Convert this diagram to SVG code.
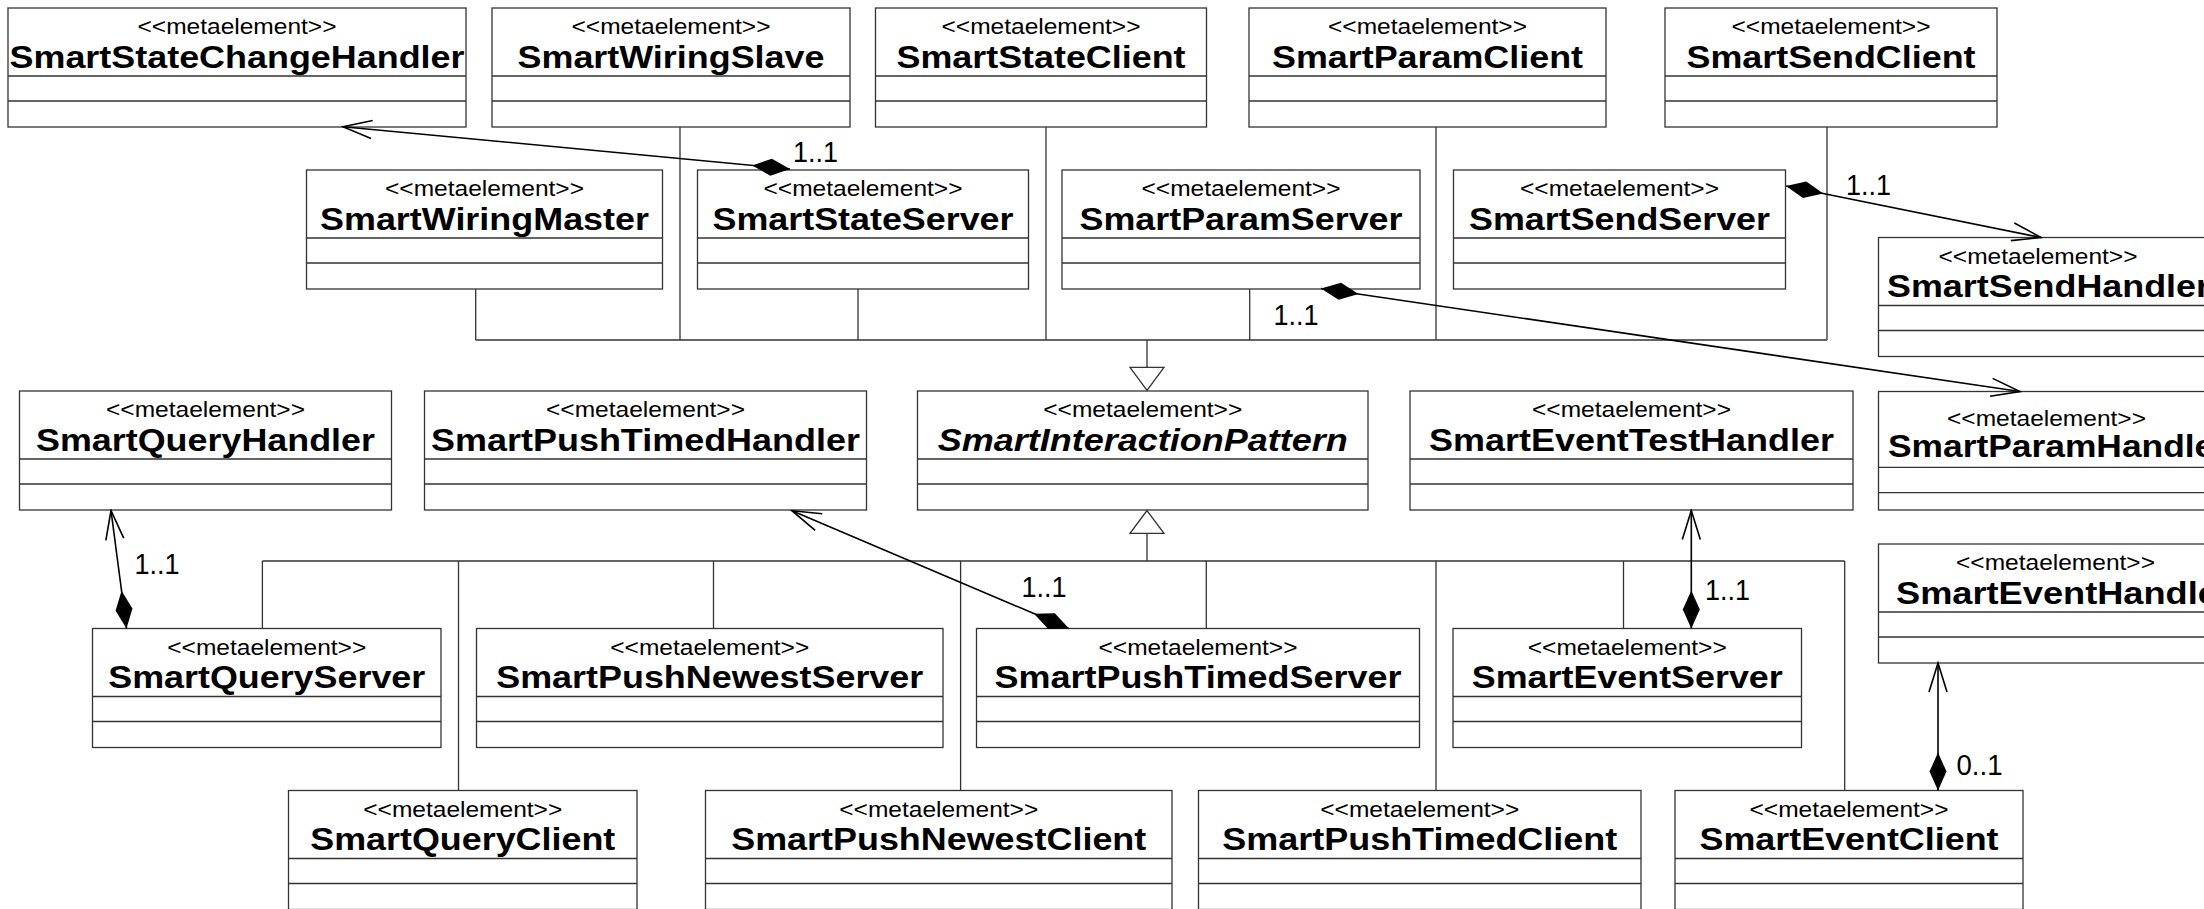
<svg xmlns="http://www.w3.org/2000/svg" width="2204" height="909" viewBox="0 0 2204 909">
  <style>
    .box { fill: #fff; stroke: #333; stroke-width: 1.3; }
    .sep { fill: none; stroke: #333; stroke-width: 1.3; }
    .st { font-family: "Liberation Sans", Arial, sans-serif; font-size: 21.5px; fill: #000; }
    .nm { font-family: "Liberation Sans", Arial, sans-serif; font-size: 32px; font-weight: bold; fill: #000; }
    .it { font-style: italic; }
    .c { text-anchor: middle; }
    .gen { fill: none; stroke: #333; stroke-width: 1.3; }
    .tri { fill: #fff; stroke: #333; stroke-width: 1.3; }
    .asc { fill: none; stroke: #000; stroke-width: 1.6; marker-start: url(#diamond); marker-end: url(#openArrow); }
    .lbl { font-family: "Liberation Sans", Arial, sans-serif; font-size: 29px; fill: #000; }
  </style>
  <defs>
    <marker id="diamond" markerUnits="userSpaceOnUse" viewBox="-1 -10 41 20" markerWidth="41" markerHeight="20" refX="0" refY="0" orient="auto">
      <path d="M0,0 L19,-8.5 L38,0 L19,8.5 Z" fill="#000"/>
    </marker>
    <marker id="openArrow" markerUnits="userSpaceOnUse" viewBox="-32 -11 34 22" markerWidth="34" markerHeight="22" refX="0" refY="0" orient="auto">
      <path d="M-29,-9 L0,0 L-29,9" fill="none" stroke="#000" stroke-width="1.6"/>
    </marker>
  </defs>
  <rect width="2204" height="909" fill="#fff"/>

  <!-- classes: name compartment 68px, two empty compartments 25px each -->
  <g id="nodes">
    <g id="SmartStateChangeHandler">
      <rect class="box" x="8" y="8" width="458" height="119"/>
      <path class="sep" d="M8,76H466M8,101H466"/>
      <text class="st c" x="237" y="34" textLength="199" lengthAdjust="spacingAndGlyphs">&lt;&lt;metaelement&gt;&gt;</text>
      <text class="nm c" x="237" y="67.5" textLength="455" lengthAdjust="spacingAndGlyphs">SmartStateChangeHandler</text>
    </g>
    <g id="SmartWiringSlave">
      <rect class="box" x="492" y="8" width="358" height="119"/>
      <path class="sep" d="M492,76H850M492,101H850"/>
      <text class="st c" x="671" y="34" textLength="199" lengthAdjust="spacingAndGlyphs">&lt;&lt;metaelement&gt;&gt;</text>
      <text class="nm c" x="671" y="67.5" textLength="307" lengthAdjust="spacingAndGlyphs">SmartWiringSlave</text>
    </g>
    <g id="SmartStateClient">
      <rect class="box" x="875.5" y="8" width="331" height="119"/>
      <path class="sep" d="M875.5,76H1206.5M875.5,101H1206.5"/>
      <text class="st c" x="1041" y="34" textLength="199" lengthAdjust="spacingAndGlyphs">&lt;&lt;metaelement&gt;&gt;</text>
      <text class="nm c" x="1041" y="67.5" textLength="289" lengthAdjust="spacingAndGlyphs">SmartStateClient</text>
    </g>
    <g id="SmartParamClient">
      <rect class="box" x="1249" y="8" width="357" height="119"/>
      <path class="sep" d="M1249,76H1606M1249,101H1606"/>
      <text class="st c" x="1427.5" y="34" textLength="199" lengthAdjust="spacingAndGlyphs">&lt;&lt;metaelement&gt;&gt;</text>
      <text class="nm c" x="1427.5" y="67.5" textLength="311" lengthAdjust="spacingAndGlyphs">SmartParamClient</text>
    </g>
    <g id="SmartSendClient">
      <rect class="box" x="1665" y="8" width="332" height="119"/>
      <path class="sep" d="M1665,76H1997M1665,101H1997"/>
      <text class="st c" x="1831" y="34" textLength="199" lengthAdjust="spacingAndGlyphs">&lt;&lt;metaelement&gt;&gt;</text>
      <text class="nm c" x="1831" y="67.5" textLength="289" lengthAdjust="spacingAndGlyphs">SmartSendClient</text>
    </g>

    <g id="SmartWiringMaster">
      <rect class="box" x="306.5" y="170" width="356" height="119"/>
      <path class="sep" d="M306.5,238H662.5M306.5,263H662.5"/>
      <text class="st c" x="484.5" y="196" textLength="199" lengthAdjust="spacingAndGlyphs">&lt;&lt;metaelement&gt;&gt;</text>
      <text class="nm c" x="484.5" y="229.5" textLength="329" lengthAdjust="spacingAndGlyphs">SmartWiringMaster</text>
    </g>
    <g id="SmartStateServer">
      <rect class="box" x="697.5" y="170" width="331" height="119"/>
      <path class="sep" d="M697.5,238H1028.5M697.5,263H1028.5"/>
      <text class="st c" x="863" y="196" textLength="199" lengthAdjust="spacingAndGlyphs">&lt;&lt;metaelement&gt;&gt;</text>
      <text class="nm c" x="863" y="229.5" textLength="301" lengthAdjust="spacingAndGlyphs">SmartStateServer</text>
    </g>
    <g id="SmartParamServer">
      <rect class="box" x="1062" y="170" width="358" height="119"/>
      <path class="sep" d="M1062,238H1420M1062,263H1420"/>
      <text class="st c" x="1241" y="196" textLength="199" lengthAdjust="spacingAndGlyphs">&lt;&lt;metaelement&gt;&gt;</text>
      <text class="nm c" x="1241" y="229.5" textLength="323" lengthAdjust="spacingAndGlyphs">SmartParamServer</text>
    </g>
    <g id="SmartSendServer">
      <rect class="box" x="1453.5" y="170" width="332" height="119"/>
      <path class="sep" d="M1453.5,238H1785.5M1453.5,263H1785.5"/>
      <text class="st c" x="1619.5" y="196" textLength="199" lengthAdjust="spacingAndGlyphs">&lt;&lt;metaelement&gt;&gt;</text>
      <text class="nm c" x="1619.5" y="229.5" textLength="301" lengthAdjust="spacingAndGlyphs">SmartSendServer</text>
    </g>
    <g id="SmartSendHandler">
      <rect class="box" x="1878.5" y="237.5" width="345" height="119"/>
      <path class="sep" d="M1878.5,305.5H2223.5M1878.5,330.5H2223.5"/>
      <text class="st" x="1938.5" y="264" textLength="199" lengthAdjust="spacingAndGlyphs">&lt;&lt;metaelement&gt;&gt;</text>
      <text class="nm" x="1887" y="297" textLength="323" lengthAdjust="spacingAndGlyphs">SmartSendHandler</text>
    </g>

    <g id="SmartQueryHandler">
      <rect class="box" x="19.5" y="391" width="372" height="119"/>
      <path class="sep" d="M19.5,459H391.5M19.5,484H391.5"/>
      <text class="st c" x="205.5" y="417" textLength="199" lengthAdjust="spacingAndGlyphs">&lt;&lt;metaelement&gt;&gt;</text>
      <text class="nm c" x="205.5" y="450.5" textLength="339" lengthAdjust="spacingAndGlyphs">SmartQueryHandler</text>
    </g>
    <g id="SmartPushTimedHandler">
      <rect class="box" x="424.5" y="391" width="442" height="119"/>
      <path class="sep" d="M424.5,459H866.5M424.5,484H866.5"/>
      <text class="st c" x="645.5" y="417" textLength="199" lengthAdjust="spacingAndGlyphs">&lt;&lt;metaelement&gt;&gt;</text>
      <text class="nm c" x="645.5" y="450.5" textLength="429" lengthAdjust="spacingAndGlyphs">SmartPushTimedHandler</text>
    </g>
    <g id="SmartInteractionPattern">
      <rect class="box" x="917.5" y="391" width="450.5" height="119"/>
      <path class="sep" d="M917.5,459H1368M917.5,484H1368"/>
      <text class="st c" x="1142.75" y="417" textLength="199" lengthAdjust="spacingAndGlyphs">&lt;&lt;metaelement&gt;&gt;</text>
      <text class="nm it c" x="1142.75" y="450.5" textLength="410" lengthAdjust="spacingAndGlyphs">SmartInteractionPattern</text>
    </g>
    <g id="SmartEventTestHandler">
      <rect class="box" x="1410" y="391" width="443" height="119"/>
      <path class="sep" d="M1410,459H1853M1410,484H1853"/>
      <text class="st c" x="1631.5" y="417" textLength="199" lengthAdjust="spacingAndGlyphs">&lt;&lt;metaelement&gt;&gt;</text>
      <text class="nm c" x="1631.5" y="450.5" textLength="405" lengthAdjust="spacingAndGlyphs">SmartEventTestHandler</text>
    </g>
    <g id="SmartParamHandler">
      <rect class="box" x="1878.5" y="391.5" width="370" height="118.5"/>
      <path class="sep" d="M1878.5,467.3H2248.5M1878.5,492.7H2248.5"/>
      <text class="st" x="1947" y="426" textLength="199" lengthAdjust="spacingAndGlyphs">&lt;&lt;metaelement&gt;&gt;</text>
      <text class="nm" x="1888" y="457" textLength="340" lengthAdjust="spacingAndGlyphs">SmartParamHandler</text>
    </g>
    <g id="SmartEventHandler">
      <rect class="box" x="1878.5" y="544" width="390" height="119"/>
      <path class="sep" d="M1878.5,612H2268.5M1878.5,637H2268.5"/>
      <text class="st" x="1956" y="570" textLength="199" lengthAdjust="spacingAndGlyphs">&lt;&lt;metaelement&gt;&gt;</text>
      <text class="nm" x="1896" y="603.5" textLength="336" lengthAdjust="spacingAndGlyphs">SmartEventHandler</text>
    </g>

    <g id="SmartQueryServer">
      <rect class="box" x="92.5" y="628.5" width="348.5" height="119"/>
      <path class="sep" d="M92.5,696.5H441M92.5,721.5H441"/>
      <text class="st c" x="266.75" y="654.5" textLength="199" lengthAdjust="spacingAndGlyphs">&lt;&lt;metaelement&gt;&gt;</text>
      <text class="nm c" x="266.75" y="688" textLength="317" lengthAdjust="spacingAndGlyphs">SmartQueryServer</text>
    </g>
    <g id="SmartPushNewestServer">
      <rect class="box" x="476.5" y="628.5" width="466.5" height="119"/>
      <path class="sep" d="M476.5,696.5H943M476.5,721.5H943"/>
      <text class="st c" x="709.75" y="654.5" textLength="199" lengthAdjust="spacingAndGlyphs">&lt;&lt;metaelement&gt;&gt;</text>
      <text class="nm c" x="709.75" y="688" textLength="427" lengthAdjust="spacingAndGlyphs">SmartPushNewestServer</text>
    </g>
    <g id="SmartPushTimedServer">
      <rect class="box" x="976.5" y="628.5" width="443" height="119"/>
      <path class="sep" d="M976.5,696.5H1419.5M976.5,721.5H1419.5"/>
      <text class="st c" x="1198" y="654.5" textLength="199" lengthAdjust="spacingAndGlyphs">&lt;&lt;metaelement&gt;&gt;</text>
      <text class="nm c" x="1198" y="688" textLength="407" lengthAdjust="spacingAndGlyphs">SmartPushTimedServer</text>
    </g>
    <g id="SmartEventServer">
      <rect class="box" x="1453" y="628.5" width="348.5" height="119"/>
      <path class="sep" d="M1453,696.5H1801.5M1453,721.5H1801.5"/>
      <text class="st c" x="1627.25" y="654.5" textLength="199" lengthAdjust="spacingAndGlyphs">&lt;&lt;metaelement&gt;&gt;</text>
      <text class="nm c" x="1627.25" y="688" textLength="311" lengthAdjust="spacingAndGlyphs">SmartEventServer</text>
    </g>

    <g id="SmartQueryClient">
      <rect class="box" x="288.5" y="790.5" width="348.5" height="119"/>
      <path class="sep" d="M288.5,858.5H637M288.5,883.5H637"/>
      <text class="st c" x="462.75" y="816.5" textLength="199" lengthAdjust="spacingAndGlyphs">&lt;&lt;metaelement&gt;&gt;</text>
      <text class="nm c" x="462.75" y="850" textLength="305" lengthAdjust="spacingAndGlyphs">SmartQueryClient</text>
    </g>
    <g id="SmartPushNewestClient">
      <rect class="box" x="705.5" y="790.5" width="466.5" height="119"/>
      <path class="sep" d="M705.5,858.5H1172M705.5,883.5H1172"/>
      <text class="st c" x="938.75" y="816.5" textLength="199" lengthAdjust="spacingAndGlyphs">&lt;&lt;metaelement&gt;&gt;</text>
      <text class="nm c" x="938.75" y="850" textLength="415" lengthAdjust="spacingAndGlyphs">SmartPushNewestClient</text>
    </g>
    <g id="SmartPushTimedClient">
      <rect class="box" x="1198.5" y="790.5" width="442.5" height="119"/>
      <path class="sep" d="M1198.5,858.5H1641M1198.5,883.5H1641"/>
      <text class="st c" x="1419.75" y="816.5" textLength="199" lengthAdjust="spacingAndGlyphs">&lt;&lt;metaelement&gt;&gt;</text>
      <text class="nm c" x="1419.75" y="850" textLength="395" lengthAdjust="spacingAndGlyphs">SmartPushTimedClient</text>
    </g>
    <g id="SmartEventClient">
      <rect class="box" x="1675" y="790.5" width="348" height="119"/>
      <path class="sep" d="M1675,858.5H2023M1675,883.5H2023"/>
      <text class="st c" x="1849" y="816.5" textLength="199" lengthAdjust="spacingAndGlyphs">&lt;&lt;metaelement&gt;&gt;</text>
      <text class="nm c" x="1849" y="850" textLength="299" lengthAdjust="spacingAndGlyphs">SmartEventClient</text>
    </g>
  </g>

  <g id="connectors">
    <!-- generalization tree into SmartInteractionPattern from above -->
    <path class="gen" d="M475.7,340H1827 M475.7,289V340 M680,127V340 M858,289V340 M1046,127V340 M1249.7,289V340 M1436,127V340 M1827,127V340 M1147,340V367.3"/>
    <polygon class="tri" points="1130,367.3 1164,367.3 1147,390.5"/>
    <!-- generalization tree into SmartInteractionPattern from below -->
    <path class="gen" d="M262.4,561H1844.7 M1147,533.3V561 M262.4,561V628.5 M458.5,561V790.5 M713.5,561V628.5 M960.6,561V790.5 M1206.3,561V628.5 M1436,561V790.5 M1623.5,561V628.5 M1844.7,561V790.5"/>
    <polygon class="tri" points="1147,510.5 1130,533.3 1164,533.3"/>

    <!-- compositions: diamond at the owner, open arrow at the part -->
    <path class="asc" d="M790,169L343,126.7"/>
    <text class="lbl" x="793" y="161.5" textLength="45" lengthAdjust="spacingAndGlyphs">1..1</text>

    <path class="asc" d="M1786,186L2041,237.5"/>
    <text class="lbl" x="1846" y="195" textLength="45" lengthAdjust="spacingAndGlyphs">1..1</text>

    <path class="asc" d="M1321,288.5L2020,391.5"/>
    <text class="lbl" x="1273.5" y="325" textLength="45" lengthAdjust="spacingAndGlyphs">1..1</text>

    <path class="asc" d="M126.5,628.5L111,510.5"/>
    <text class="lbl" x="134.5" y="573.5" textLength="45" lengthAdjust="spacingAndGlyphs">1..1</text>

    <path class="asc" d="M1069,628.5L792,510.7"/>
    <text class="lbl" x="1021.5" y="596.5" textLength="45" lengthAdjust="spacingAndGlyphs">1..1</text>

    <path class="asc" d="M1691.3,628.5L1691.3,510.5"/>
    <text class="lbl" x="1705" y="600" textLength="45" lengthAdjust="spacingAndGlyphs">1..1</text>

    <path class="asc" d="M1938,790.5L1938,663"/>
    <text class="lbl" x="1956.5" y="775" textLength="46" lengthAdjust="spacingAndGlyphs">0..1</text>
  </g>
</svg>
